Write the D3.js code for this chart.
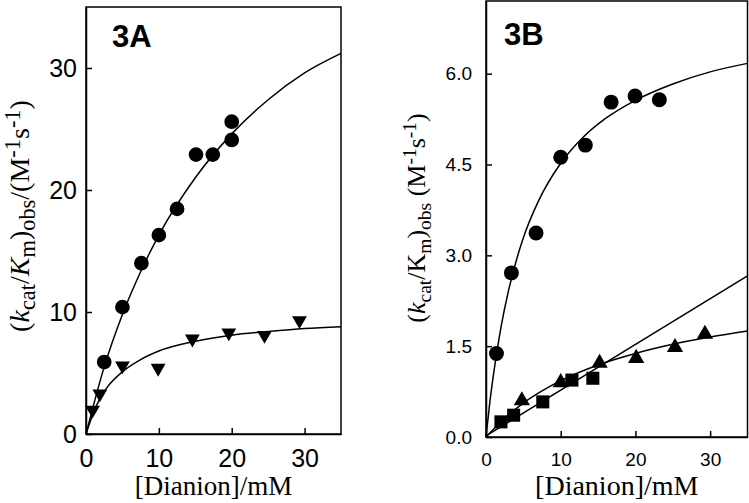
<!DOCTYPE html>
<html>
<head>
<meta charset="utf-8">
<script src="https://cdn.jsdelivr.net/npm/d3@7"></script>
<style>
  body { margin: 0; background: #fff; }
  svg { display: block; }
  .tick text { font-family: "Liberation Sans", Arial, sans-serif; fill: #000; }
  .tick line, .domain { stroke: #000; stroke-width: 1.5; }
</style>
</head>
<body>
<div id="chart"></div>
<script>
// ---- panel 3A data ----
const aCircleX = [2.5, 5.0, 7.6, 10.0, 12.5, 15.1, 17.4, 20.0, 20.0];
const aCircleY = [5.9, 10.4, 14.0, 16.3, 18.45, 22.9, 22.9, 25.6, 24.1];
const aTriX = [0.9, 1.9, 5.0, 9.9, 14.6, 19.6, 24.5, 29.3];
const aTriY = [1.97, 3.3, 5.6, 5.4, 7.8, 8.3, 8.1, 9.3];
// fitted curves
const aFit1X = [0, 2.5, 5, 7.5, 10, 15, 20, 25, 30, 35];
const aFit1Y = [0, 5.5, 9.8, 13.3, 16.3, 21.0, 24.6, 27.4, 29.6, 31.2];
const aFit2X = [0, 1, 2, 3, 5, 7.5, 10, 15, 20, 25, 30, 35];
const aFit2Y = [0, 1.7, 3.0, 3.9, 5.1, 6.1, 6.8, 7.6, 8.1, 8.4, 8.65, 8.8];
const aTicksX = [0, 10, 20, 30];
const aTicksY = [0, 10, 20, 30];

// ---- panel 3B data ----
const bCircleX = [1.4, 3.4, 6.7, 10.0, 13.3, 16.75, 19.95, 23.2];
const bCircleY = [1.38, 2.71, 3.37, 4.62, 4.82, 5.53, 5.63, 5.57];
const bSquareX = [2.0, 3.7, 7.6, 11.5, 14.3];
const bSquareY = [0.25, 0.36, 0.58, 0.94, 0.97];
const bTriX = [4.8, 10.0, 15.2, 20.1, 25.3, 29.3];
const bTriY = [0.6, 0.9, 1.22, 1.3, 1.48, 1.7];
const bFit1X = [0, 0.5, 1, 2, 3, 4, 5, 7, 10, 13, 16, 20, 25, 30, 35];
const bFit1Y = [0, 0.56, 1.03, 1.81, 2.41, 2.89, 3.29, 3.89, 4.52, 4.95, 5.26, 5.56, 5.83, 6.03, 6.17];
const bLineX = [0, 35];
const bLineY = [0.02, 2.66];
const bFit2X = [0, 2.5, 5, 7.5, 10, 15, 20, 25, 30, 35];
const bFit2Y = [0, 0.31, 0.56, 0.76, 0.93, 1.19, 1.38, 1.53, 1.65, 1.75];
const bTicksX = [0, 10, 20, 30];
const bTicksY = [0, 1.5, 3.0, 4.5, 6.0];

const width = 749;
const height = 503;

const svg = d3.select('#chart').append('svg')
    .attr('width', width)
    .attr('height', height);

function zip(xs, ys) {
    return xs.map((x, i) => [x, ys[i]]);
}

function drawPanel(cfg) {
    const x = d3.scaleLinear().domain([0, 35]).range([cfg.left, cfg.right]);
    const y = d3.scaleLinear().domain([0, cfg.yMax]).range([cfg.bottom, cfg.top]);
    const g = svg.append('g');

    // frame
    g.append('rect')
        .attr('x', cfg.left).attr('y', cfg.top)
        .attr('width', cfg.right - cfg.left)
        .attr('height', cfg.bottom - cfg.top)
        .attr('fill', 'none')
        .attr('stroke', '#000')
        .attr('stroke-width', 1.5);

    const xAxis = d3.axisBottom(x)
        .tickValues(cfg.ticksX)
        .tickFormat(d3.format('d'))
        .tickSizeInner(-6).tickSizeOuter(0)
        .tickPadding(cfg.xPad);
    g.append('g')
        .attr('transform', `translate(0, ${cfg.bottom})`)
        .call(xAxis)
        .call(s => s.selectAll('text').style('font-size', cfg.tickFont + 'px'));

    const yAxis = d3.axisLeft(y)
        .tickValues(cfg.ticksY)
        .tickFormat(cfg.yFormat)
        .tickSizeInner(-6).tickSizeOuter(0)
        .tickPadding(cfg.yPad);
    g.append('g')
        .attr('transform', `translate(${cfg.left}, 0)`)
        .call(yAxis)
        .call(s => s.selectAll('text').style('font-size', cfg.tickFont + 'px'));

    const line = d3.line()
        .x(d => x(d[0]))
        .y(d => y(d[1]))
        .curve(d3.curveMonotoneX);

    cfg.curves.forEach((c) => {
        g.append('path')
            .datum(c)
            .attr('d', line)
            .attr('fill', 'none')
            .attr('stroke', '#000')
            .attr('stroke-width', 1.5);
    });

    cfg.points.forEach((p) => {
        g.selectAll(null)
            .data(p.data)
            .enter()
            .append('path')
            .attr('transform', d => `translate(${x(d[0])}, ${y(d[1])})${p.rot ? ' rotate(180)' : ''}`)
            .attr('d', d3.symbol().type(p.type).size(p.size))
            .attr('fill', '#000');
    });

    // panel tag
    g.append('text')
        .attr('x', cfg.tagX).attr('y', cfg.tagY)
        .attr('font-family', '"Liberation Sans", Arial, sans-serif')
        .attr('font-weight', 'bold')
        .attr('font-size', 31)
        .text(cfg.tag);

    // x label
    g.append('text')
        .attr('x', (cfg.left + cfg.right) / 2)
        .attr('y', 495)
        .attr('text-anchor', 'middle')
        .attr('font-family', '"Liberation Serif", "Times New Roman", serif')
        .attr('font-size', cfg.xLabelFont)
        .text('[Dianion]/mM');

    // y label
    const yl = g.append('text')
        .attr('transform', `translate(${cfg.yLabelX}, ${cfg.yLabelY}) rotate(-90)`)
        .attr('text-anchor', 'middle')
        .attr('font-family', '"Liberation Serif", "Times New Roman", serif')
        .attr('font-size', cfg.yLabelFont);
    let shift = 0;
    cfg.yLabel.forEach((part) => {
        const target = part.s === 'sub' ? 6 : part.s === 'sup' ? -9 : 0;
        const ts = yl.append('tspan')
            .attr('dy', target - shift)
            .text(part.t);
        shift = target;
        if (part.s) ts.attr('font-size', cfg.yLabelFont * cfg.subRatio);
        if (part.i) ts.attr('font-style', 'italic');
    });
}

drawPanel({
    left: 86, right: 341, top: 7, bottom: 434, yMax: 35,
    ticksX: aTicksX, ticksY: aTicksY, yFormat: d3.format('d'),
    tickFont: 25, xPad: 15, yPad: 9,
    curves: [zip(aFit1X, aFit1Y), zip(aFit2X, aFit2Y)],
    points: [
        { data: zip(aCircleX, aCircleY), type: d3.symbolCircle, size: 170 },
        { data: zip(aTriX, aTriY), type: d3.symbolTriangle, size: 95, rot: true }
    ],
    tag: '3A', tagX: 112, tagY: 47,
    xLabelFont: 27,
    yLabelX: 29, yLabelY: 216, yLabelFont: 28, subRatio: 0.8,
    yLabel: [
        { t: '(' }, { t: 'k', i: true }, { t: 'cat', s: 'sub' }, { t: '/' },
        { t: 'K', i: true }, { t: 'm', s: 'sub' }, { t: ')' }, { t: 'obs', s: 'sub' },
        { t: '/(M' }, { t: '-1', s: 'sup' }, { t: 's' }, { t: '-1', s: 'sup' }, { t: ')' }
    ]
});

drawPanel({
    left: 486, right: 747.5, top: 1, bottom: 437, yMax: 7.2,
    ticksX: bTicksX, ticksY: bTicksY, yFormat: d3.format('.1f'),
    tickFont: 19, xPad: 16, yPad: 14,
    curves: [zip(bFit1X, bFit1Y), zip(bLineX, bLineY), zip(bFit2X, bFit2Y)],
    points: [
        { data: zip(bCircleX, bCircleY), type: d3.symbolCircle, size: 175 },
        { data: zip(bSquareX, bSquareY), type: d3.symbolSquare, size: 170 },
        { data: zip(bTriX, bTriY), type: d3.symbolTriangle, size: 115 }
    ],
    tag: '3B', tagX: 504, tagY: 45,
    xLabelFont: 28,
    yLabelX: 425, yLabelY: 218, yLabelFont: 26, subRatio: 0.75,
    yLabel: [
        { t: '(' }, { t: 'k', i: true }, { t: 'cat', s: 'sub' }, { t: '/' },
        { t: 'K' }, { t: 'm', s: 'sub' }, { t: ')' }, { t: 'obs', s: 'sub' },
        { t: ' (M' }, { t: '-1', s: 'sup' }, { t: 's' }, { t: '-1', s: 'sup' }, { t: ')' }
    ]
});
</script>
</body>
</html>
